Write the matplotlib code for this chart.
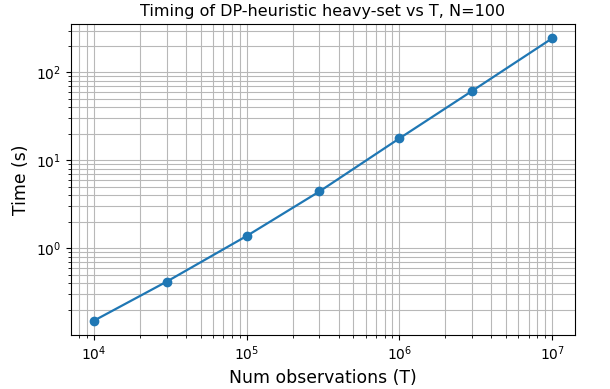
import matplotlib
matplotlib.use("Agg")
import matplotlib.pyplot as plt

T_values = [1e4, 3e4, 1e5, 3e5, 1e6, 3e6, 1e7]
times = [0.150, 0.418, 1.38, 4.44, 17.8, 61.9, 245.0]

fig = plt.figure(figsize=(6.1, 3.89), dpi=100)
ax = fig.add_axes([0.116, 0.139, 0.827, 0.799])
ax.plot(T_values, times, marker='o', color='#1f77b4', linewidth=1.6, markersize=6)
ax.set_xscale('log')
ax.set_yscale('log')
ax.grid(True, which='both', color='#b8b8b8', linewidth=0.8)
ax.set_xlabel('Num observations (T)', fontsize=12.4)
ax.set_ylabel('Time (s)', fontsize=12.4)
ax.set_title('Timing of DP-heuristic heavy-set vs T, N=100', fontsize=11.5)
ax.tick_params(labelsize=10)
fig.savefig('out.png', dpi=100)
